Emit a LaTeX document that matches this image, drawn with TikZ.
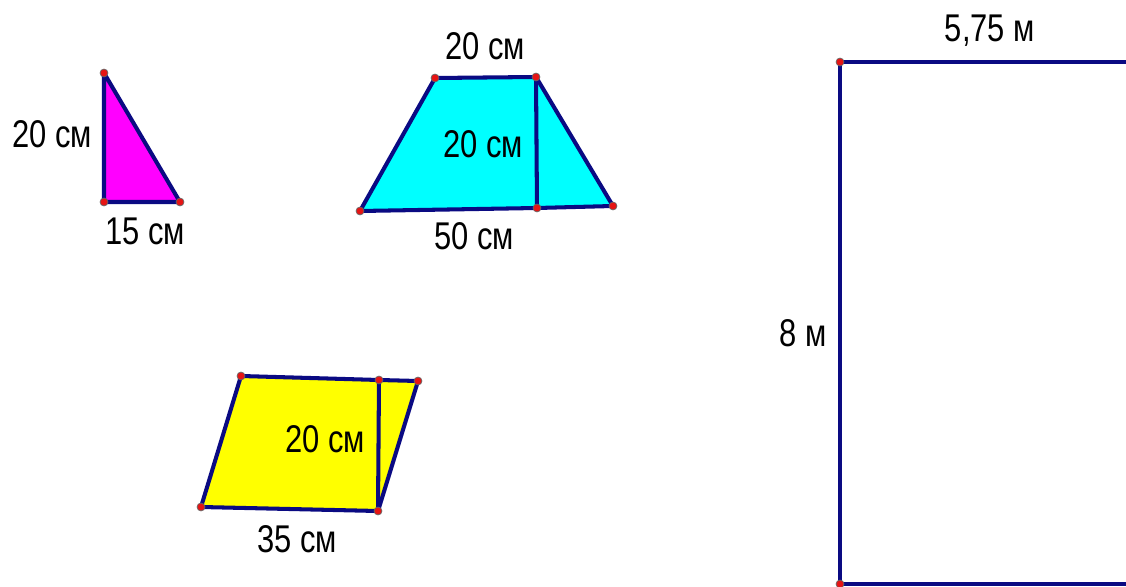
\documentclass[tikz,border=0pt]{standalone}
\usepackage{fontspec}
\usepackage{graphicx}
\setmainfont{Liberation Sans}
\definecolor{edgeblue}{RGB}{10,10,130}
\definecolor{dotred}{RGB}{230,20,20}
\definecolor{trifill}{RGB}{255,0,255}
\definecolor{trapfill}{RGB}{0,255,255}
\definecolor{parfill}{RGB}{255,255,0}
\tikzset{
	side/.style={draw=edgeblue, line width=2.3pt, line join=round},
	vdot/.style={circle, fill=dotred, draw=black!60, line width=0.4pt, inner sep=0pt, minimum size=4.5pt},
	lbl/.style={anchor=base, inner sep=0pt, font=\fontsize{22}{26}\selectfont}
}
\newcommand{\narrow}[1]{\scalebox{0.8}[1]{#1}}
\begin{document}
\begin{tikzpicture}[x=0.02cm, y=-0.02cm]
	\useasboundingbox (0,0) rectangle (1126,587);
	% Vertices:
	\coordinate (t1) at (104,73);
	\coordinate (t2) at (104,202);
	\coordinate (t3) at (180,202);
	\coordinate (z1) at (435,78);
	\coordinate (z2) at (536,77);
	\coordinate (z3) at (613,206);
	\coordinate (z4) at (537,208);
	\coordinate (z5) at (360,211);
	\coordinate (p1) at (241,376);
	\coordinate (p2) at (379,380);
	\coordinate (p3) at (418,381);
	\coordinate (p4) at (378,511);
	\coordinate (p5) at (201,507);
	\coordinate (r1) at (840,62);
	\coordinate (r2) at (840,584);
	\coordinate (r3) at (1126,62);
	\coordinate (r4) at (1126,584);
	% Shapes:
	\path[side, fill=trifill] (t1) -- (t2) -- (t3) -- cycle;
	\path[side, fill=trapfill] (z1) -- (z2) -- (z3) -- (z4) -- (z5) -- cycle;
	\draw[side] (z2) -- (z4);
	\path[side, fill=parfill] (p1) -- (p2) -- (p3) -- (p4) -- (p5) -- cycle;
	\draw[side] (p2) -- (p4);
	\draw[side] (r3) -- (r1) -- (r2) -- (r4);
	% Points:
	\foreach \v in {t1,t2,t3,z1,z2,z3,z4,z5,p1,p2,p3,p4,p5,r1,r2}
		\node[vdot] (d\v) at (\v) {};
	% Labels:
	\node[lbl] (tleft) at (52,148) {\narrow{20 см}};
	\node[lbl] (tbase) at (145,245) {\narrow{15 см}};
	\node[lbl] (ztop) at (485,60) {\narrow{20 см}};
	\node[lbl] (zhigh) at (483,158) {\narrow{20 см}};
	\node[lbl] (zbase) at (474,250) {\narrow{50 см}};
	\node[lbl] (phigh) at (325,453) {\narrow{20 см}};
	\node[lbl] (pbase) at (297,552) {\narrow{35 см}};
	\node[lbl] (rtop) at (990,42) {\narrow{5,75 м}};
	\node[lbl] (rleft) at (803,347) {\narrow{8 м}};
\end{tikzpicture}
\end{document}
